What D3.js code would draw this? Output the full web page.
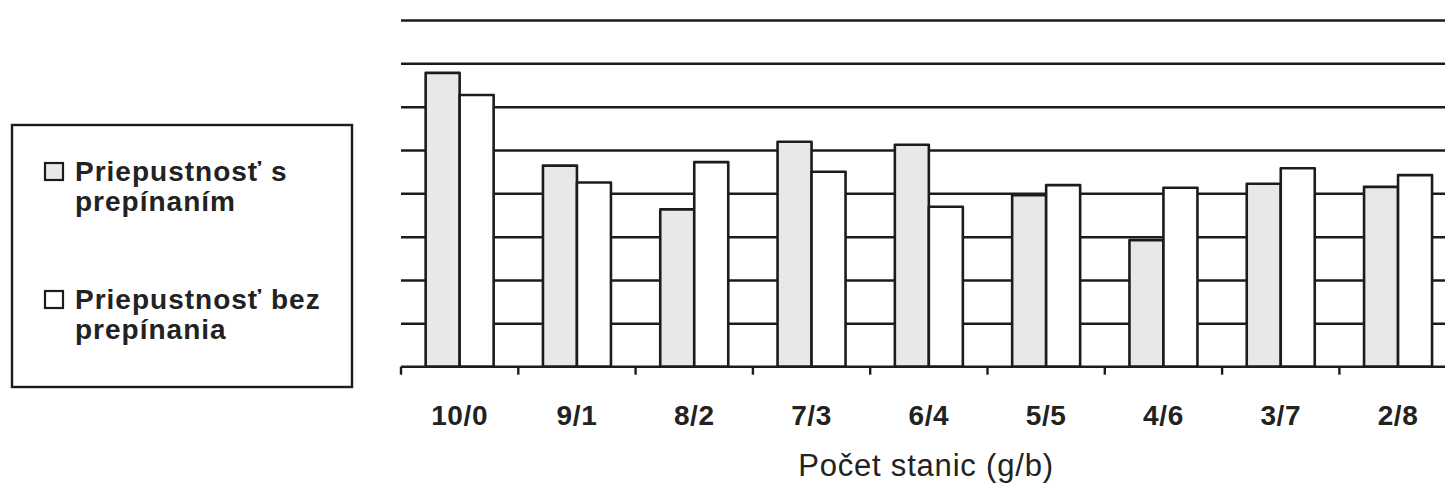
<!DOCTYPE html>
<html>
<head>
<meta charset="utf-8">
<script src="https://cdn.jsdelivr.net/npm/d3@7"></script>
<style>
  html, body { margin: 0; padding: 0; background: #ffffff; }
  svg { display: block; }
  text { font-family: "Liberation Sans", Arial, sans-serif; fill: #222222; }
</style>
</head>
<body>
<svg id="chart" width="1445" height="486"></svg>
<script>
// Station mix (g/b) on the horizontal axis
const categories = ["10/0", "9/1", "8/2", "7/3", "6/4", "5/5", "4/6", "3/7", "2/8"];
// Throughput with switching
const withSwitching = [6.78, 4.64, 3.63, 5.19, 5.12, 3.96, 2.92, 4.22, 4.15];
// Throughput without switching
const withoutSwitching = [6.27, 4.25, 4.72, 4.50, 3.69, 4.19, 4.13, 4.58, 4.42];
const seriesNames = ["Priepustnosť s prepínaním", "Priepustnosť bez prepínania"];
const legendLines = [["Priepustnosť s", "prepínaním"], ["Priepustnosť bez", "prepínania"]];
const gridValues = [1, 2, 3, 4, 5, 6, 7, 8];
const axisTitle = "Počet stanic (g/b)";

const fills = ["#e8e8e8", "#ffffff"];
const ink = "#1c1c1c";

const svg = d3.select("#chart");

const plotLeft = 401, plotBottom = 366.7, plotTop = 20;
const step = 117.3;

const x0 = d3.scaleBand()
  .domain(categories)
  .range([plotLeft, plotLeft + step * categories.length])
  .paddingInner(0).paddingOuter(0);

const x1 = d3.scaleBand()
  .domain(d3.range(seriesNames.length))
  .range([0, x0.bandwidth()])
  .paddingInner(0).paddingOuter(0.725);

const y = d3.scaleLinear().domain([0, 8]).range([plotBottom, plotTop]);

// Horizontal gridlines
const grid = svg.append("g")
  .attr("transform", `translate(${plotLeft},0)`)
  .call(d3.axisLeft(y).tickValues(gridValues).tickSize(-(1445 - plotLeft + 20)).tickFormat(""));
grid.select(".domain").remove();
grid.selectAll(".tick line").attr("stroke", ink).attr("stroke-width", 2.5);

// Bars
const rows = categories.map((c, i) => ({ c, v: [withSwitching[i], withoutSwitching[i]] }));
const groups = svg.append("g").selectAll("g")
  .data(rows).join("g")
  .attr("transform", d => `translate(${x0(d.c)},0)`);

groups.selectAll("rect")
  .data(d => d.v.map((v, k) => ({ v, k })))
  .join("rect")
  .attr("x", d => x1(d.k))
  .attr("width", x1.bandwidth())
  .attr("y", d => y(d.v))
  .attr("height", d => y(0) - y(d.v))
  .attr("fill", d => fills[d.k])
  .attr("stroke", ink)
  .attr("stroke-width", 2.6)
  .attr("stroke-linejoin", "round");

// Category axis with ticks between groups
const axisG = svg.append("g");
axisG.append("line")
  .attr("x1", plotLeft).attr("x2", 1445 + 20)
  .attr("y1", y(0)).attr("y2", y(0))
  .attr("stroke", ink).attr("stroke-width", 2.6);
const boundaries = categories.map(c => x0(c)).concat([x0.range()[1]]);
axisG.selectAll("line.tick")
  .data(boundaries).join("line")
  .attr("class", "tick")
  .attr("x1", d => d).attr("x2", d => d)
  .attr("y1", y(0)).attr("y2", y(0) + 8)
  .attr("stroke", ink).attr("stroke-width", 2.4);

axisG.selectAll("text.cat")
  .data(categories).join("text")
  .attr("class", "cat")
  .attr("x", d => x0(d) + x0.bandwidth() / 2)
  .attr("y", 425)
  .attr("text-anchor", "middle")
  .attr("font-size", 28)
  .attr("font-weight", "bold")
  .attr("letter-spacing", 0.6)
  .text(d => d);

svg.append("text")
  .attr("x", 926)
  .attr("y", 476)
  .attr("text-anchor", "middle")
  .attr("font-size", 31)
  .attr("letter-spacing", 0.8)
  .text(axisTitle);

// Legend
const legend = svg.append("g");
legend.append("rect")
  .attr("x", 12).attr("y", 125)
  .attr("width", 340).attr("height", 262)
  .attr("fill", "#ffffff")
  .attr("stroke", ink).attr("stroke-width", 2.4);

const entryTop = [163, 291];
seriesNames.forEach((name, k) => {
  legend.append("rect")
    .attr("x", 45).attr("y", entryTop[k])
    .attr("width", 18).attr("height", 17)
    .attr("fill", fills[k])
    .attr("stroke", ink).attr("stroke-width", 2.2);
  const t = legend.append("text")
    .attr("x", 75).attr("y", entryTop[k] + 18)
    .attr("font-size", 28)
    .attr("font-weight", "bold")
    .attr("letter-spacing", 1);
  legendLines[k].forEach((line, j) => {
    t.append("tspan").attr("x", 75).attr("dy", j === 0 ? 0 : 30).text(line);
  });
});
</script>
</body>
</html>
